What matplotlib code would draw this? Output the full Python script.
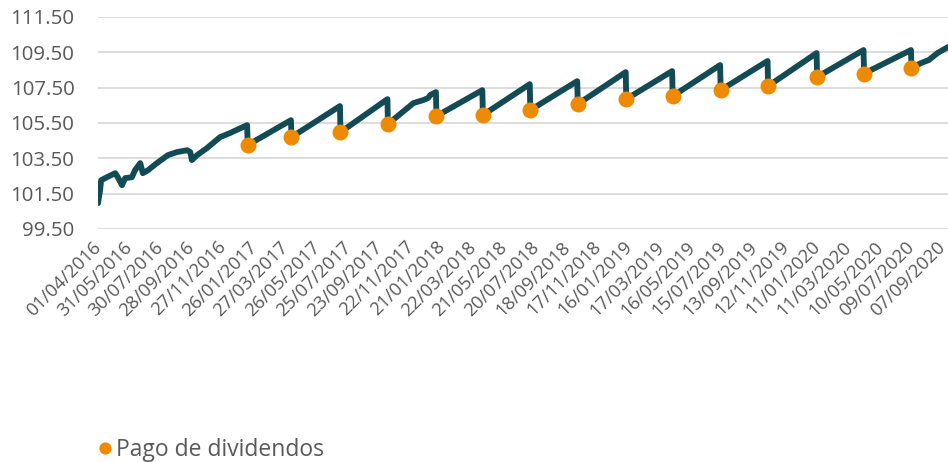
import matplotlib
matplotlib.use("Agg")
import matplotlib.pyplot as plt
from matplotlib.lines import Line2D
import datetime as dt

# ---- data ----
line_dates = [
    "2016-04-01", "2016-04-05", "2016-04-07", "2016-04-18", "2016-05-04", "2016-05-09",
    "2016-05-17", "2016-05-23", "2016-06-05", "2016-06-11", "2016-06-21", "2016-06-26",
    "2016-07-06", "2016-07-23", "2016-08-13", "2016-08-30", "2016-09-19", "2016-09-25",
    "2016-09-28", "2016-10-08", "2016-10-27", "2016-11-21", "2016-12-10", "2017-01-12",
    "2017-01-13", "2017-04-06", "2017-04-07", "2017-07-09", "2017-07-10", "2017-10-08",
    "2017-10-09", "2017-11-27", "2017-12-16", "2017-12-25", "2017-12-29", "2018-01-09",
    "2018-01-10", "2018-04-08", "2018-04-09", "2018-07-08", "2018-07-09", "2018-10-07",
    "2018-10-08", "2019-01-08", "2019-01-09", "2019-04-07", "2019-04-08", "2019-07-08",
    "2019-07-09", "2019-10-07", "2019-10-08", "2020-01-09", "2020-01-10", "2020-04-08",
    "2020-04-09", "2020-07-08", "2020-07-09", "2020-07-27", "2020-08-11", "2020-08-28",
    "2020-09-17",
]
line_values = [
    100.96, 101.70, 102.26, 102.43, 102.66, 102.43,
    101.98, 102.38, 102.43, 102.83, 103.23, 102.66,
    102.83, 103.23, 103.68, 103.85, 103.96, 103.85,
    103.40, 103.68, 104.08, 104.70, 104.93, 105.38,
    104.25, 105.66, 104.70, 106.46, 104.98, 106.85,
    105.44, 106.63, 106.80, 106.91, 107.08, 107.25,
    105.89, 107.36, 105.95, 107.70, 106.23, 107.87,
    106.57, 108.38, 106.85, 108.44, 107.02, 108.78,
    107.36, 109.01, 107.59, 109.46, 108.10, 109.63,
    108.30, 109.63, 108.61, 108.89, 109.06, 109.46,
    109.80,
]
div_dates = [
    "2017-01-13", "2017-04-07", "2017-07-10", "2017-10-09", "2018-01-10",
    "2018-04-09", "2018-07-09", "2018-10-08", "2019-01-09", "2019-04-08",
    "2019-07-09", "2019-10-08", "2020-01-10", "2020-04-09", "2020-07-09",
]
div_values = [
    104.25, 104.70, 104.98, 105.44, 105.89,
    105.95, 106.23, 106.57, 106.85, 107.02,
    107.36, 107.59, 108.10, 108.30, 108.61,
]
y_ticks = [99.50, 101.50, 103.50, 105.50, 107.50, 109.50, 111.50]
x_start = "2016-04-01"
x_end = "2020-09-17"
tick_step_days = 60
legend_label = "Pago de dividendos"

# ---- style ----
LINE_C = "#134b55"
DOT_C = "#ee8a00"
TXT_C = "#595959"
GRID_C = "#d9d9d9"
plt.rcParams['font.family'] = ['Open Sans', 'DejaVu Sans']

to_d = lambda s: dt.datetime.strptime(s, "%Y-%m-%d")
ld = [to_d(s) for s in line_dates]
dd = [to_d(s) for s in div_dates]

fig = plt.figure(figsize=(9.48, 4.62), dpi=100)
ax = fig.add_axes([98/948, 1-229/462, 850/948, 212/462])
renderer = fig.canvas.get_renderer()


def fit_size(sample, target_px, base=14):
    t = fig.text(0, 0, sample, fontsize=base)
    w = t.get_window_extent(renderer).width
    t.remove()
    return base * target_px / w


x0 = to_d(x_start)
x1 = to_d(x_end)
ticks = []
t = x0
while t <= x1:
    ticks.append(t)
    t = t + dt.timedelta(days=tick_step_days)
xlabels = [t.strftime("%d/%m/%Y") for t in ticks]
ylabels = [f"{v:.2f}" for v in y_ticks]

y_fs = fit_size(ylabels[-1], 64)
x_fs = fit_size(xlabels[0], 98)
leg_fs = fit_size(legend_label, 210)

ax.plot(ld, line_values, color=LINE_C, lw=4.2, solid_joinstyle='round',
        solid_capstyle='round', zorder=3)
ax.plot(dd, div_values, linestyle='none', marker='o', markersize=11.5,
        color=DOT_C, markeredgewidth=0, zorder=4)

ax.set_ylim(99.5, 111.5)
ax.set_yticks(y_ticks)
ax.set_yticklabels(ylabels)
ax.yaxis.grid(True, color=GRID_C, lw=1.3)
ax.set_axisbelow(True)

ax.set_xlim(x0, x1)
ax.set_xticks(ticks)
ax.set_xticklabels(xlabels, rotation=45, ha='right', va='center',
                   rotation_mode='anchor')

for s in ax.spines.values():
    s.set_visible(False)
ax.tick_params(axis='y', length=0, pad=17, labelsize=y_fs, labelcolor=TXT_C)
ax.tick_params(axis='x', length=0, pad=11, labelsize=x_fs, labelcolor=TXT_C)

handle = Line2D([], [], marker='o', linestyle='none', color=DOT_C,
                markersize=8.8, markeredgewidth=0)
fig.legend([handle], [legend_label], loc='center left',
           bbox_to_anchor=(100/948, 1-450/462), frameon=False, fontsize=leg_fs,
           labelcolor=TXT_C, handlelength=0.45, handletextpad=0.25,
           borderpad=0, borderaxespad=0)

fig.savefig("out.png", dpi=100)
